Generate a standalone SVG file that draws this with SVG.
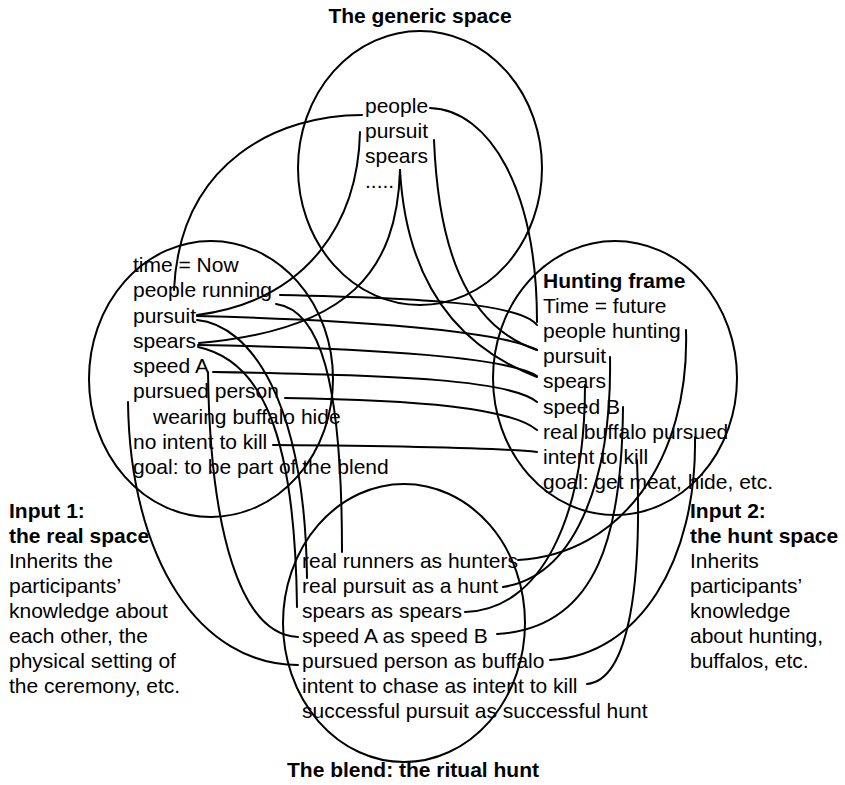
<svg xmlns="http://www.w3.org/2000/svg" width="845" height="785" viewBox="0 0 845 785">
<style>
  .sp { fill: none; stroke: #000; stroke-width: 2; }
  .c { fill: none; stroke: #000; stroke-width: 2; stroke-linecap: round; }
  text { font-family: "Liberation Sans", Arial, sans-serif; font-size: 21px; fill: #000; }
  .b { font-weight: bold; }
</style>
<rect width="845" height="785" fill="#fff"/>

<g id="generic-space">
  <ellipse class="sp" cx="420" cy="168" rx="122" ry="137"/>
  <text class="b" x="420" y="23" text-anchor="middle">The generic space</text>
  <text x="365" y="113">people</text>
  <text x="365" y="138">pursuit</text>
  <text x="365" y="163">spears</text>
  <text x="365" y="188">.....</text>
</g>

<g id="input1">
  <ellipse class="sp" cx="211" cy="379" rx="122" ry="138"/>
  <text x="133" y="272">time = Now</text>
  <text x="133" y="297">people running</text>
  <text x="133" y="323">pursuit</text>
  <text x="133" y="348">spears</text>
  <text x="133" y="373">speed A</text>
  <text x="133" y="398">pursued person</text>
  <text x="153" y="424">wearing buffalo hide</text>
  <text x="133" y="449">no intent to kill</text>
  <text x="133" y="474">goal: to be part of the blend</text>
  <text class="b" x="9" y="518">Input 1:</text>
  <text class="b" x="9" y="543">the real space</text>
  <text x="9" y="568">Inherits the</text>
  <text x="9" y="593">participants’</text>
  <text x="9" y="618">knowledge about</text>
  <text x="9" y="643">each other, the</text>
  <text x="9" y="668">physical setting of</text>
  <text x="9" y="693">the ceremony, etc.</text>
</g>

<g id="input2">
  <ellipse class="sp" cx="615" cy="378" rx="122" ry="137"/>
  <text class="b" x="543" y="288">Hunting frame</text>
  <text x="543" y="313">Time = future</text>
  <text x="543" y="338">people hunting</text>
  <text x="543" y="363">pursuit</text>
  <text x="543" y="388">spears</text>
  <text x="543" y="414">speed B</text>
  <text x="543" y="439">real buffalo pursued</text>
  <text x="543" y="464">intent to kill</text>
  <text x="543" y="489">goal: get meat, hide, etc.</text>
  <text class="b" x="690" y="518">Input 2:</text>
  <text class="b" x="690" y="543">the hunt space</text>
  <text x="690" y="568">Inherits</text>
  <text x="690" y="593">participants’</text>
  <text x="690" y="618">knowledge</text>
  <text x="690" y="643">about hunting,</text>
  <text x="690" y="668">buffalos, etc.</text>
</g>

<g id="blend">
  <ellipse class="sp" cx="404" cy="623" rx="121" ry="139"/>
  <text x="302" y="568">real runners as hunters</text>
  <text x="302" y="593">real pursuit as a hunt</text>
  <text x="302" y="618">spears as spears</text>
  <text x="302" y="643">speed A as speed B</text>
  <text x="302" y="668">pursued person as buffalo</text>
  <text x="302" y="693">intent to chase as intent to kill</text>
  <text x="302" y="718">successful pursuit as successful hunt</text>
  <text class="b" x="287" y="777">The blend: the ritual hunt</text>
</g>

<g id="connectors">
  <!-- generic to input 1 -->
  <path class="c" d="M362,115 C280,115 180,160 174,290"/>
  <path class="c" d="M360,132 C358,220 310,300 197,315"/>
  <path class="c" d="M400,170 C397,270 350,330 199,343"/>
  <!-- generic to input 2 -->
  <path class="c" d="M430,108 C490,110 537,190 537,322"/>
  <path class="c" d="M434,140 C438,240 462,325 537,350"/>
  <path class="c" d="M400,170 C405,260 440,340 537,377"/>
  <!-- input 1 to input 2 -->
  <path class="c" d="M280,295 C420,298 520,303 537,325"/>
  <path class="c" d="M197,316 C350,320 500,330 537,350"/>
  <path class="c" d="M198,345 C380,348 510,358 537,376"/>
  <path class="c" d="M213,372 C400,375 510,380 537,402"/>
  <path class="c" d="M285,398 C420,400 510,408 537,430"/>
  <path class="c" d="M273,445 C400,446 500,448 537,452"/>
  <!-- input 1 to blend -->
  <path class="c" d="M276,304 C320,310 342,380 342,552"/>
  <path class="c" d="M197,320 C250,325 305,400 307,578"/>
  <path class="c" d="M198,347 C260,360 295,430 297,607"/>
  <path class="c" d="M208,372 C210,530 240,635 298,637"/>
  <path class="c" d="M128,402 C130,560 200,665 298,665"/>
  <!-- input 2 to blend -->
  <path class="c" d="M686,330 C690,460 620,555 518,560"/>
  <path class="c" d="M610,357 C612,470 580,575 503,587"/>
  <path class="c" d="M585,385 C585,520 540,610 465,612"/>
  <path class="c" d="M623,407 C622,530 600,628 497,634"/>
  <path class="c" d="M695,437 C697,560 640,655 550,660"/>
  <path class="c" d="M637,460 C642,580 630,680 587,684"/>
</g>
</svg>
